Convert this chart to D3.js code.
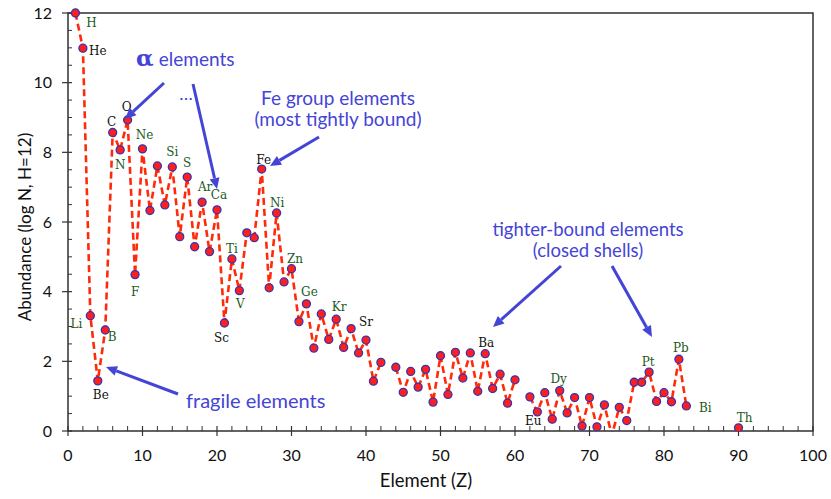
<!DOCTYPE html>
<html>
<head>
<meta charset="utf-8">
<script src="https://cdn.jsdelivr.net/npm/d3@7"></script>
<style>
  html, body { margin: 0; padding: 0; background: #fff; }
  svg { display: block; }
</style>
</head>
<body>
<svg id="chart" width="831" height="499"></svg>
<script>
// ---------------- DATA ----------------
const elementZ = [1,2,3,4,5,6,7,8,9,10,11,12,13,14,15,16,17,18,19,20,
  21,22,23,24,25,26,27,28,29,30,31,32,33,34,35,36,37,38,39,40,41,42,
  44,45,46,47,48,49,50,51,52,53,54,55,56,57,58,59,60,
  62,63,64,65,66,67,68,69,70,71,72,73,74,75,76,77,78,79,80,81,82,83,90];
const abundance = [12.00,10.99,3.31,1.44,2.90,8.57,8.07,8.93,4.49,8.10,6.33,7.61,6.49,7.58,5.58,7.29,5.29,6.57,5.15,6.35,
  3.10,4.94,4.03,5.69,5.55,7.52,4.11,6.26,4.28,4.66,3.14,3.65,2.38,3.36,2.63,3.21,2.40,2.94,2.24,2.61,1.43,1.97,
  1.83,1.11,1.71,1.26,1.77,0.83,2.16,1.05,2.26,1.52,2.24,1.14,2.22,1.22,1.63,0.80,1.47,
  0.98,0.55,1.10,0.34,1.16,0.52,0.96,0.14,0.96,0.12,0.75,-0.13,0.68,0.30,1.40,1.40,1.69,0.85,1.10,0.84,2.06,0.72,0.09];
const labelSymbols = ["H","He","Li","Be","B","C","N","O","F","Ne","Si","S","Ar","Ca","Sc","Ti","V","Fe","Ni","Zn","Ge","Kr","Sr","Ba","Eu","Dy","Pt","Pb","Bi","Th"];
const labelZ       = [1,2,3,4,5,6,7,8,9,10,14,16,18,20,21,22,23,26,28,30,32,36,38,56,63,66,78,82,83,90];
const xTicks = [0,10,20,30,40,50,60,70,80,90,100];
const yTicks = [0,2,4,6,8,10,12];
const xTitle = "Element (Z)";
const yTitle = "Abundance (log N, H=12)";

// ---------------- LAYOUT / STYLE ----------------
const W = 831, H = 499;
const m = {left: 68, right: 813, top: 13, bottom: 431};
const svg = d3.select("#chart");
const x = d3.scaleLinear().domain([0, 100]).range([m.left, m.right]);
const y = d3.scaleLinear().domain([0, 12]).range([m.bottom, m.top]);
const tickFont = "Lato, 'Open Sans', sans-serif";
const blue = "#4444d6";
const green = "#1d5a1d";
const blackLabels = new Set(["He","C","O","Be","Sc","Fe","Sr","Ba","Eu"]);
const labelOffset = {
  H:[16,10], He:[15,3], Li:[-14,8], Be:[3,14], B:[7,7], C:[-1,-11], N:[0,15], O:[-1,-13],
  F:[0,17], Ne:[2,-14], Si:[0,-15.5], S:[0,-14], Ar:[3,-15.5], Ca:[2,-15], Sc:[-3,15],
  Ti:[0,-10], V:[1,13.5], Fe:[2,-9], Ni:[0.5,-10.5], Zn:[3.5,-10], Ge:[3,-12.5], Kr:[3,-12.5],
  Sr:[15,-7], Ba:[1,-10.5], Eu:[-4,8.5], Dy:[-1,-11.5], Pt:[-1,-10], Pb:[2,-11.5], Bi:[19,1.5], Th:[6,-10]
};

const points = elementZ.map((z, i) => ({z, v: abundance[i], prevZ: i > 0 ? elementZ[i-1] : null}));

svg.append("defs").append("clipPath").attr("id", "clip")
  .append("rect").attr("x", 0).attr("y", 0).attr("width", W).attr("height", m.bottom + 0.3);

// ---------------- AXES ----------------
const axes = svg.append("g");
axes.append("rect").attr("x", m.left).attr("y", m.top)
  .attr("width", m.right - m.left).attr("height", m.bottom - m.top)
  .attr("fill", "none").attr("stroke", "#222").attr("stroke-width", 1.4);

axes.selectAll(".xmin").data(d3.range(0, 101, 2).filter(d => d % 10 !== 0)).enter()
  .append("line").attr("x1", d => x(d)).attr("x2", d => x(d))
  .attr("y1", m.bottom).attr("y2", m.bottom - 5).attr("stroke", "#333").attr("stroke-width", 1);
axes.selectAll(".xmaj").data(xTicks).enter()
  .append("line").attr("x1", d => x(d)).attr("x2", d => x(d))
  .attr("y1", m.bottom - 5).attr("y2", m.bottom + 5).attr("stroke", "#333").attr("stroke-width", 1.2);
axes.selectAll(".xlab").data(xTicks).enter()
  .append("text").attr("x", d => x(d)).attr("y", m.bottom + 30)
  .attr("text-anchor", "middle").attr("font-family", tickFont).attr("font-size", 16).attr("fill", "#111")
  .text(d => d);

axes.selectAll(".ymin").data(d3.range(0, 12.01, 0.5).filter(d => d % 2 !== 0)).enter()
  .append("line").attr("x1", m.left).attr("x2", m.left + 4)
  .attr("y1", d => y(d)).attr("y2", d => y(d)).attr("stroke", "#333").attr("stroke-width", 1);
axes.selectAll(".ymaj").data(yTicks).enter()
  .append("line").attr("x1", m.left - 6).attr("x2", m.left + 4)
  .attr("y1", d => y(d)).attr("y2", d => y(d)).attr("stroke", "#333").attr("stroke-width", 1.2);
axes.selectAll(".ylab").data(yTicks).enter()
  .append("text").attr("x", m.left - 16).attr("y", d => y(d)).attr("dy", "0.35em")
  .attr("text-anchor", "end").attr("font-family", tickFont).attr("font-size", 16).attr("fill", "#111")
  .text(d => d);

svg.append("text").attr("x", 426).attr("y", 487).attr("text-anchor", "middle")
  .attr("font-family", tickFont).attr("font-size", 18.5).attr("fill", "#111").text(xTitle);
svg.append("text").attr("transform", "translate(31,227) rotate(-90)").attr("text-anchor", "middle")
  .attr("font-family", tickFont).attr("font-size", 17).attr("fill", "#111").text(yTitle);

// ---------------- SERIES ----------------
const plot = svg.append("g").attr("clip-path", "url(#clip)");
const runs = [];
points.forEach(p => {
  if (p.prevZ === null || p.z - p.prevZ !== 1) runs.push([]);
  runs[runs.length - 1].push(p);
});
const line = d3.line().x(d => x(d.z)).y(d => y(d.v));
plot.selectAll(".run").data(runs).enter().append("path")
  .attr("d", line).attr("fill", "none").attr("stroke", "#ff2a0a")
  .attr("stroke-width", 2.6).attr("stroke-dasharray", "7,4");
plot.selectAll(".pt").data(points).enter().append("circle")
  .attr("cx", d => x(d.z)).attr("cy", d => y(d.v)).attr("r", 4)
  .attr("fill", "#ff1e1e").attr("stroke", "#3535b0").attr("stroke-width", 1.3);

const valByZ = new Map(points.map(p => [p.z, p.v]));
svg.selectAll(".elab").data(labelSymbols).enter().append("text")
  .attr("x", (s, i) => x(labelZ[i]) + labelOffset[s][0])
  .attr("y", (s, i) => y(valByZ.get(labelZ[i])) + labelOffset[s][1])
  .attr("dy", "0.35em").attr("text-anchor", "middle")
  .attr("font-family", "'DejaVu Serif', serif").attr("font-size", 12)
  .attr("fill", s => blackLabels.has(s) ? "#111" : green)
  .text(s => s);

// ---------------- ANNOTATIONS ----------------
const ann = svg.append("g");
function arrow(x1, y1, x2, y2) {
  const ang = Math.atan2(y2 - y1, x2 - x1);
  const L = 11, Wd = 5;
  const bx = x2 - L * Math.cos(ang), by = y2 - L * Math.sin(ang);
  ann.append("line").attr("x1", x1).attr("y1", y1).attr("x2", bx).attr("y2", by)
    .attr("stroke", blue).attr("stroke-width", 3);
  const px = -Math.sin(ang) * Wd, py = Math.cos(ang) * Wd;
  ann.append("path").attr("d", `M${x2},${y2}L${bx+px},${by+py}L${bx-px},${by-py}Z`).attr("fill", blue);
}
function label(lines, cx, by, size, gap, anchor) {
  const t = ann.append("text").attr("y", by).attr("text-anchor", anchor || "middle")
    .attr("font-family", tickFont).attr("font-size", size).attr("fill", blue);
  lines.forEach((s, i) => t.append("tspan").attr("x", cx).attr("dy", i === 0 ? 0 : gap).text(s));
  return t;
}
const alpha = ann.append("text").attr("x", 136).attr("y", 66).attr("font-family", tickFont)
  .attr("font-size", 19).attr("fill", blue);
alpha.append("tspan").attr("font-family", "'DejaVu Serif', serif").attr("font-size", 23).attr("font-weight", "bold").text("α");
alpha.append("tspan").attr("dx", 5).text("elements");
label(["…"], 186, 100, 18, 0);
arrow(164, 83, 125, 119);
arrow(193, 84, 217, 189);

label(["Fe group elements", "(most tightly bound)"], 338, 105, 19, 21);
arrow(319, 137, 270, 166);

label(["tighter-bound elements", "(closed shells)"], 588, 236, 18.5, 21);
arrow(561, 266, 493, 327);
arrow(612, 266, 652, 337);

label(["fragile elements"], 186, 408, 20, 0, "start");
arrow(178, 394, 106, 367);
</script>
</body>
</html>
